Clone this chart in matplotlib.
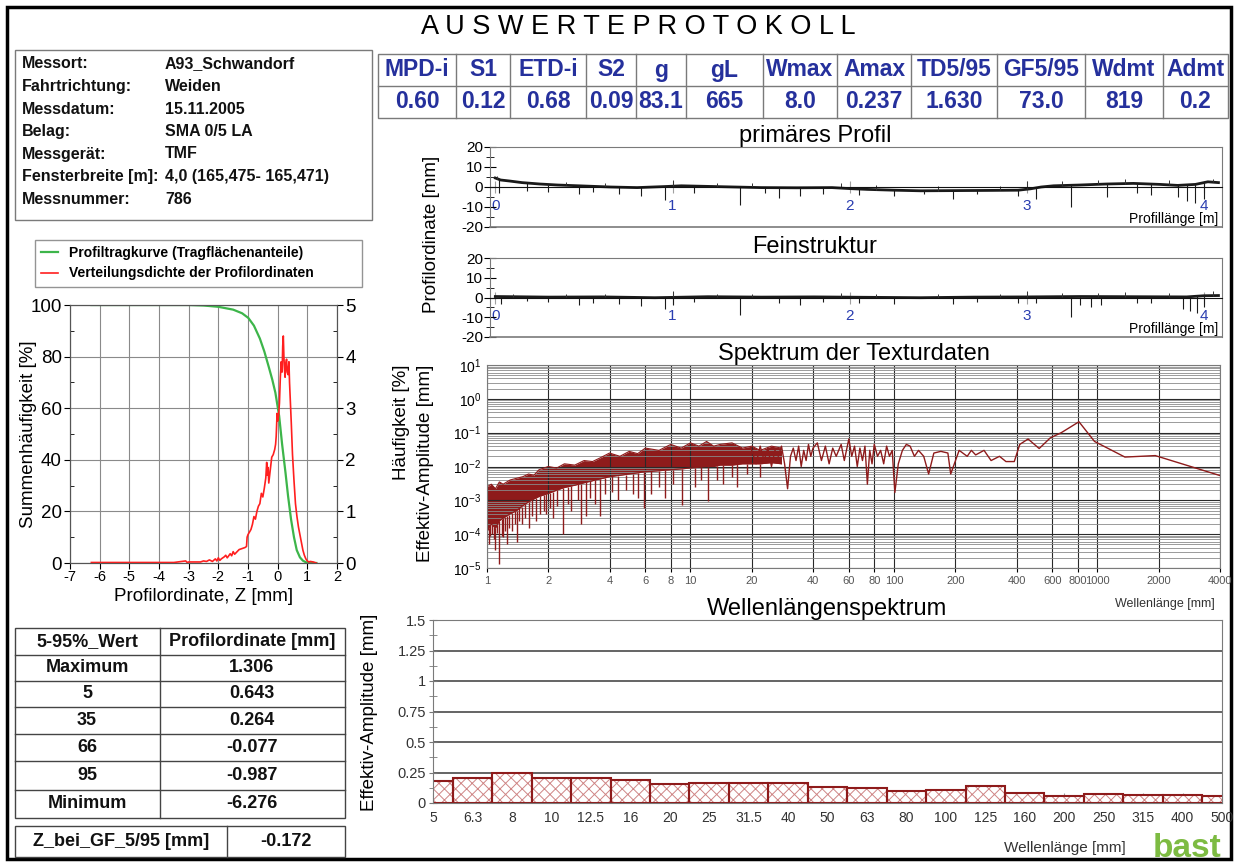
import numpy as np
import matplotlib
matplotlib.use('Agg')
import matplotlib.pyplot as plt
from matplotlib.patches import Rectangle
from matplotlib.ticker import LogLocator, NullLocator, NullFormatter

plt.rcParams['font.family'] = ['Liberation Sans', 'DejaVu Sans']
plt.rcParams['mathtext.default'] = 'regular'
plt.rcParams['axes.unicode_minus'] = False
plt.rcParams['hatch.linewidth'] = 0.7

# ---------------- data ----------------
info_labels = ['Messort:', 'Fahrtrichtung:', 'Messdatum:', 'Belag:', 'Messgerät:',
               'Fensterbreite [m]:', 'Messnummer:']
info_values = ['A93_Schwandorf', 'Weiden', '15.11.2005', 'SMA 0/5 LA', 'TMF',
               '4,0 (165,475- 165,471)', '786']

param_names = ['MPD-i', 'S1', 'ETD-i', 'S2', 'g', 'gL', 'Wmax', 'Amax', 'TD5/95',
               'GF5/95', 'Wdmt', 'Admt']
param_values = ['0.60', '0.12', '0.68', '0.09', '83.1', '665', '8.0', '0.237',
                '1.630', '73.0', '819', '0.2']

quant_names = ['Maximum', '5', '35', '66', '95', 'Minimum']
quant_values = ['1.306', '0.643', '0.264', '-0.077', '-0.987', '-6.276']
z_gf_value = '-0.172'

# Profiltragkurve (bearing curve), %
tk_z = [-6.28, -3.0, -2.5, -2.0, -1.5, -1.2, -0.99, -0.8, -0.6, -0.45, -0.3, -0.18,
        -0.077, 0.05, 0.15, 0.264, 0.35, 0.45, 0.55, 0.643, 0.75, 0.85, 0.95, 1.05, 1.306]
tk_pct = [100, 100, 99.8, 99.3, 98.2, 96.8, 95, 92, 87, 82, 76, 71,
          66, 57, 46, 35, 26, 17, 10, 5, 2.2, 0.9, 0.3, 0.05, 0]

# Verteilungsdichte (right axis)
vd_z = [-6.28, -5.5, -4.5, -3.5, -3.1, -3.05, -3.0, -2.6, -2.5, -2.4,
        -2.3, -2.2, -2.1, -2.05, -2.0, -1.95, -1.9, -1.8, -1.75, -1.7,
        -1.6, -1.55, -1.5, -1.45, -1.4, -1.3, -1.2, -1.1, -1.05, -1.03,
        -1.0, -0.95, -0.9, -0.85, -0.8, -0.75, -0.7, -0.65, -0.6, -0.55,
        -0.5, -0.45, -0.4, -0.37, -0.35, -0.32, -0.3, -0.25, -0.2, -0.15,
        -0.1, -0.07, -0.05, -0.02, 0.0, 0.03, 0.06, 0.09, 0.12, 0.15,
        0.17, 0.19, 0.21, 0.23, 0.25, 0.27, 0.3, 0.32, 0.35, 0.38,
        0.4, 0.43, 0.46, 0.5, 0.55, 0.6, 0.65, 0.7, 0.75, 0.8,
        0.85, 0.9, 0.95, 1.0, 1.05, 1.1, 1.2, 1.3]
vd_val = [0.01, 0.01, 0.01, 0.01, 0.04, 0.01, 0.02, 0.02, 0.04, 0.03,
          0.06, 0.03, 0.08, 0.04, 0.1, 0.05, 0.08, 0.12, 0.15, 0.1,
          0.18, 0.14, 0.22, 0.17, 0.2, 0.26, 0.28, 0.3, 0.32, 0.5,
          0.55, 0.6, 0.65, 0.75, 0.9, 0.85, 1.0, 1.1, 1.15, 1.35,
          1.28, 1.45, 1.65, 1.95, 1.7, 1.85, 1.55, 1.8, 2.05, 2.1,
          2.2, 2.3, 2.45, 2.9, 2.75, 2.85, 3.1, 3.6, 3.9, 3.7,
          4.2, 4.4, 4.0, 3.75, 3.6, 3.85, 3.95, 3.7, 3.65, 3.9,
          3.5, 3.1, 2.7, 2.1, 1.6, 1.15, 0.9, 0.7, 0.55, 0.4,
          0.25, 0.15, 0.08, 0.04, 0.02, 0.03, 0.02, 0.0]

# primäres Profil: trend line + spikes
prim_x = [0.0, 0.03, 0.08, 0.15, 0.25, 0.35, 0.5, 0.65, 0.8, 0.95, 1.05, 1.2, 1.35, 1.5,
          1.7, 1.9, 2.0, 2.1, 2.25, 2.4, 2.6, 2.8, 2.95, 3.02, 3.08, 3.15, 3.3, 3.45,
          3.6, 3.75, 3.85, 3.95, 4.02, 4.08]
prim_y = [4.5, 3.5, 3.0, 2.2, 1.5, 1.0, 0.5, 0.0, -0.3, 0.2, 0.6, 0.3, 0.0, -0.3,
          -0.4, -0.3, -0.8, -1.2, -1.6, -1.9, -1.8, -1.7, -1.6, -0.9, 0.0, 0.6, 1.0, 1.5,
          1.8, 1.3, 0.8, 1.3, 2.6, 2.2]
prim_spk_x = [0.02, 0.18, 0.3, 0.47, 0.55, 0.7, 0.82, 0.96, 1.12, 1.38, 1.52, 1.6, 1.72,
              1.85, 2.05, 2.25, 2.42, 2.58, 2.72, 2.95, 3.05, 3.25, 3.45, 3.62, 3.7,
              3.85, 3.9, 3.95, 4.0]
prim_spk_y = [-3, -2, -2.5, -3.5, -2.5, -3.5, -4.5, -6.5, -3, -9, -3, -5.5, -4.5,
              -3.5, -4, -4.5, -3.5, -6, -3.5, -4.5, -6, -10, -5, -3, -4,
              -5, -7, -8, -6]
prim_up_x = [0.01, 0.4, 0.62, 1.0, 1.25, 1.45, 1.95, 2.15, 2.5, 2.85, 3.0, 3.2, 3.4,
             3.55, 3.8, 4.05]
prim_up_y = [5.5, 2.5, 2.0, 3.5, 2.0, 2.0, 2.0, 1.0, 0.3, 0.3, 3.0, 3.0, 3.5,
             3.8, 3.3, 4.0]

# Feinstruktur
fein_x = [0.0, 0.3, 0.6, 0.9, 1.2, 1.5, 1.8, 2.1, 2.4, 2.7, 3.0, 3.3, 3.6, 3.9, 4.0, 4.08]
fein_y = [0.5, 0.2, 0.3, -0.1, 0.4, 0.2, 0.3, 0.1, -0.1, 0.2, 0.3, 0.5, 0.4, 0.3, 0.9, 1.0]
fein_spk_x = [0.03, 0.18, 0.3, 0.47, 0.55, 0.7, 0.82, 0.96, 1.0, 1.12, 1.38, 1.6, 1.72,
              1.85, 2.05, 2.25, 2.58, 2.72, 2.95, 3.05, 3.25, 3.3, 3.36, 3.42, 3.62,
              3.7, 3.88, 3.92, 3.96, 4.0]
fein_spk_y = [-3.5, -2, -2.5, -4, -3, -3.5, -4.5, -6, -4, -2.5, -9, -3, -4,
              -2.5, -3, -3.5, -3.5, -2.5, -3, -3, -10, -4, -5, -4, -3,
              -3, -6, -7, -8, -5]
fein_up_x = [0.1, 0.4, 0.62, 1.0, 1.25, 1.45, 1.95, 2.15, 2.5, 2.85, 3.0, 3.2, 3.4,
             3.55, 3.8, 4.05]
fein_up_y = [2.0, 2.0, 1.8, 3.5, 2.0, 1.8, 2.5, 2.0, 1.8, 2.0, 3.5, 2.2, 2.5,
             2.8, 2.3, 3.5]
profile_ticks = [0, 1, 2, 3, 4]

# Spektrum der Texturdaten: dense band (short wavelengths), spikes, sparse line
band_x = [1, 1.05, 1.1, 1.15, 1.2, 1.3, 1.4, 1.5, 1.6, 1.7,
          1.8, 2.0, 2.2, 2.4, 2.7, 3.0, 3.3, 3.6, 4.0, 4.5,
          5, 5.5, 6, 7, 8, 9, 10, 11, 12, 13,
          14, 16, 18, 20, 22, 25, 28]
band_hi = [2.5e-3, 3e-3, 2.2e-3, 3.5e-3, 3e-3, 4e-3, 4.5e-3, 5e-3, 6e-3, 5.5e-3,
           8e-3, 1e-2, 9e-3, 1.2e-2, 1.1e-2, 1.5e-2, 1.4e-2, 1.8e-2, 2.5e-2, 2e-2,
           2.8e-2, 2.4e-2, 3.5e-2, 3e-2, 4.5e-2, 3.5e-2, 5e-2, 4e-2, 5.5e-2, 4e-2,
           4.5e-2, 5e-2, 3.5e-2, 4e-2, 3e-2, 4e-2, 3.5e-2]
band_lo = [1.2e-4, 2e-4, 1.5e-4, 2.5e-4, 3e-4, 4e-4, 5e-4, 7e-4, 9e-4, 1.1e-3,
           1.3e-3, 1.6e-3, 2e-3, 2.4e-3, 2.8e-3, 3.3e-3, 3.8e-3, 4.3e-3, 5e-3, 5.5e-3,
           6e-3, 6.5e-3, 7e-3, 7.5e-3, 8e-3, 8.5e-3, 9e-3, 9.5e-3, 1e-2, 1e-2,
           1.1e-2, 1.1e-2, 1.2e-2, 1.2e-2, 1.2e-2, 1.3e-2, 1.2e-2]
spec_spk_x = [1.02, 1.04, 1.06, 1.08, 1.1, 1.12, 1.15, 1.18, 1.2, 1.23,
              1.25, 1.28, 1.33, 1.37, 1.4, 1.44, 1.48, 1.53, 1.6, 1.66,
              1.75, 1.82, 1.9, 1.95, 2.05, 2.1, 2.2, 2.37, 2.5, 2.6,
              2.8, 2.9, 3.05, 3.2, 3.4, 3.6, 3.8, 4.1, 4.4, 4.8,
              5.2, 5.5, 5.9, 6.4, 7.0, 7.5, 8.2, 9.1, 10.5, 11.3,
              12.2, 13.5, 14.5, 16, 17, 19, 22]
spec_spk_y = [5e-5, 9e-5, 1e-4, 7e-5, 3.5e-5, 1.1e-4, 1.3e-5, 9e-5, 8e-5, 1.2e-4,
              5e-5, 1.5e-4, 1.2e-4, 2e-4, 6e-5, 2.5e-4, 2e-4, 3e-4, 1.5e-4, 3.5e-4,
              2.5e-4, 4e-4, 5e-4, 4e-4, 6e-4, 3e-4, 7e-4, 1e-4, 8e-4, 5e-4,
              1e-3, 2e-4, 3.5e-4, 1.2e-3, 8e-4, 3.5e-4, 1.5e-3, 1.8e-3, 1e-3, 2e-3,
              1.5e-3, 1.2e-3, 6e-4, 1.5e-3, 2.5e-3, 1.2e-3, 3e-3, 7.5e-4, 2.5e-3, 4e-3,
              9.5e-4, 4e-3, 3e-3, 5e-3, 2.5e-3, 6e-3, 5e-3]
line_x = [20, 21, 22, 23, 24, 25, 26, 27, 28, 29,
          30, 31, 32, 33, 34, 35, 36, 37, 38, 39,
          40, 42, 44, 46, 48, 50, 52, 55, 57, 60,
          62, 64, 66, 68, 70, 72, 74, 76, 78, 80,
          83, 86, 89, 92, 95, 98, 101, 105, 110, 115,
          120, 126, 132, 140, 148, 157, 170, 184, 190, 209,
          229, 240, 252, 277, 300, 330, 355, 390, 415, 456,
          517, 586, 664, 811, 967, 1364, 1923, 4000]
line_y = [0.03, 0.012, 0.04, 0.015, 0.035, 0.01, 0.03, 0.02, 0.04, 0.012,
          0.0022, 0.02, 0.035, 0.015, 0.04, 0.01, 0.03, 0.015, 0.045, 0.02,
          0.035, 0.05, 0.015, 0.04, 0.012, 0.035, 0.02, 0.045, 0.015, 0.065,
          0.02, 0.04, 0.01, 0.035, 0.015, 0.04, 0.003, 0.03, 0.012, 0.045,
          0.02, 0.03, 0.012, 0.04, 0.02, 0.03, 0.0017, 0.012, 0.03, 0.045,
          0.04, 0.02, 0.03, 0.02, 0.006, 0.025, 0.028, 0.025, 0.006, 0.03,
          0.02, 0.03, 0.022, 0.03, 0.015, 0.02, 0.014, 0.014, 0.045, 0.065,
          0.034, 0.07, 0.1, 0.21, 0.055, 0.019, 0.021, 0.0054]
spec_ticks = [1, 2, 4, 6, 8, 10, 20, 40, 60, 80, 100, 200, 400, 600, 800, 1000, 2000, 4000]

# Wellenlängenspektrum (terz bands)
wl_labels = ['5', '6.3', '8', '10', '12.5', '16', '20', '25', '31.5', '40', '50', '63',
             '80', '100', '125', '160', '200', '250', '315', '400', '500']
wl_amp = [0.184, 0.203, 0.244, 0.209, 0.209, 0.19, 0.155, 0.16, 0.165, 0.165, 0.133,
          0.12, 0.095, 0.11, 0.138, 0.081, 0.057, 0.073, 0.062, 0.062, 0.057]
wl_yticks = ['0', '0.25', '0.5', '0.75', '1', '1.25', '1.5']

# ---------------- layout helpers ----------------
W, H = 1237, 864
BLUE = '#25309c'
DARKRED = '#8e1b1b'
EDGE = '#7a7a7a'


def rect(l, t, r, b):
    return [l / W, 1 - b / H, (r - l) / W, (b - t) / H]


fig = plt.figure(figsize=(W / 100, H / 100), dpi=100)

# page overlay in pixel coordinates (frame, tables, free text)
ax0 = fig.add_axes([0, 0, 1, 1])
ax0.set_xlim(0, W)
ax0.set_ylim(H, 0)
ax0.axis('off')
ax0.add_patch(Rectangle((7, 7), 1224, 852, fill=False, lw=2.5, ec='black'))
ax0.text(638, 27, 'A U S W E R T E P R O T O K O L L', ha='center', va='center',
         fontsize=19.5)

# info box
ax0.add_patch(Rectangle((15, 50), 357, 170, fill=False, ec=EDGE, lw=1))
for i, (lab, val) in enumerate(zip(info_labels, info_values)):
    y = 64 + i * 22.5
    ax0.text(22, y, lab, fontsize=11.5, fontweight='bold', va='center', color='#111')
    ax0.text(165, y, val, fontsize=11.5, fontweight='bold', va='center', color='#111')

# parameter table
col_edges = [378, 456, 510, 586, 636, 686, 763, 837, 911, 997, 1085, 1163, 1228]
ax0.add_patch(Rectangle((378, 54), 850, 64, fill=False, ec=EDGE, lw=1))
ax0.plot([378, 1228], [86, 86], color=EDGE, lw=1)
for e in col_edges[1:-1]:
    ax0.plot([e, e], [54, 118], color=EDGE, lw=1)
for i, (name, val) in enumerate(zip(param_names, param_values)):
    cx = (col_edges[i] + col_edges[i + 1]) / 2
    ax0.text(cx, 70, name, ha='center', va='center', fontsize=16.5,
             fontweight='bold', color=BLUE)
    ax0.text(cx, 102, val, ha='center', va='center', fontsize=16.5,
             fontweight='bold', color=BLUE)

# quantile table
row_edges = [628, 655, 681, 707, 734, 761, 790, 818]
ax0.add_patch(Rectangle((15, 628), 330, 190, fill=False, ec='#444', lw=1))
for e in row_edges[1:-1]:
    ax0.plot([15, 345], [e, e], color='#444', lw=1)
ax0.plot([160, 160], [628, 818], color='#444', lw=1)
rows = [('5-95%_Wert', 'Profilordinate [mm]')] + list(zip(quant_names, quant_values))
for i, (a, b) in enumerate(rows):
    cy = (row_edges[i] + row_edges[i + 1]) / 2
    ax0.text(87, cy, a, ha='center', va='center', fontsize=13, fontweight='bold', color='#111')
    ax0.text(252, cy, b, ha='center', va='center', fontsize=13, fontweight='bold', color='#111')
ax0.add_patch(Rectangle((15, 826), 330, 31, fill=False, ec='#444', lw=1))
ax0.plot([227, 227], [826, 857], color='#444', lw=1)
ax0.text(121, 842, 'Z_bei_GF_5/95 [mm]', ha='center', va='center', fontsize=13,
         fontweight='bold', color='#111')
ax0.text(286, 842, z_gf_value, ha='center', va='center', fontsize=13,
         fontweight='bold', color='#111')

# free labels
ax0.text(432, 234, 'Profilordinate [mm]', rotation=90, ha='center', va='center', fontsize=13.5)
ax0.text(402, 365, 'Häufigkeit [%]', rotation=90, ha='center', va='top', fontsize=13.5)
ax0.text(425, 365, 'Effektiv-Amplitude [mm]', rotation=90, ha='center', va='top', fontsize=13.5)
ax0.text(370, 712, 'Effektiv-Amplitude [mm]', rotation=90, ha='center', va='center', fontsize=13.5)
ax0.text(1165, 604, 'Wellenlänge [mm]', ha='center', va='center', fontsize=9, color='#333')
ax0.text(1065, 848, 'Wellenlänge [mm]', ha='center', va='center', fontsize=11, color='#333')
ax0.text(1187, 857, 'bast', ha='center', va='baseline', fontsize=24, fontweight='bold',
         color='#7dbb42')

# ---------------- left chart ----------------
axl = fig.add_axes(rect(70, 305, 337, 563))
g_line, = axl.plot(tk_z, tk_pct, color='#3db54a', lw=1.6, zorder=3)
axl.set_xlim(-7, 2)
axl.set_ylim(0, 100)
axl.set_xticks(range(-7, 3))
axl.set_yticks(range(0, 101, 20))
axl.set_yticks(range(10, 100, 20), minor=True)
axl.grid(True, which='major', color='#8a8a8a', lw=0.8)
axl.tick_params(axis='y', labelsize=13.5, length=4, pad=2)
axl.tick_params(axis='x', labelsize=10.5, length=4, pad=1)
axl.tick_params(which='minor', direction='in', length=3)
axl.set_xlabel('Profilordinate, Z [mm]', fontsize=13.5, labelpad=3)
axl.set_ylabel('Summenhäufigkeit [%]', fontsize=13.5)
axl.yaxis.set_label_coords(-0.125, 0.5)
axr = axl.twinx()
r_line, = axr.plot(vd_z, vd_val, color='#ff1f1f', lw=1.2)
axr.set_ylim(0, 5)
axr.set_yticks(range(6))
axr.set_yticks(np.arange(0.5, 5, 1.0), minor=True)
axr.tick_params(axis='y', labelsize=13.5, length=4, pad=2)
axr.tick_params(which='minor', direction='in', length=3)
for a in (axl, axr):
    for s in a.spines.values():
        s.set_color('#555')
axl.legend(handles=[g_line, r_line],
           labels=['Profiltragkurve (Tragflächenanteile)',
                   'Verteilungsdichte der Profilordinaten'],
           loc='upper left', bbox_to_anchor=(35 / W, 1 - 240 / H, 327 / W, 0),
           bbox_transform=fig.transFigure, mode='expand', frameon=True,
           fancybox=False, edgecolor=EDGE, prop={'weight': 'bold', 'size': 10},
           handlelength=1.2, borderaxespad=0, borderpad=0.45, labelspacing=0.45)


# ---------------- profiles ----------------
def profile(top, bottom, title, bx, by, sx, sy, ux, uy):
    ax = fig.add_axes(rect(490, top, 1222, bottom))
    ax.plot(bx, by, color='#1a1a1a', lw=2.0)
    ax.vlines(sx, sy, np.interp(sx, bx, by), color='#1a1a1a', lw=0.8)
    ax.vlines(ux, np.interp(ux, bx, by), uy, color='#333', lw=0.7)
    ax.set_xlim(-0.03, 4.1)
    ax.set_ylim(-20, 20)
    ax.spines['bottom'].set_position(('data', 0))
    ax.spines['bottom'].set_color('#111')
    ax.spines['bottom'].set_linewidth(0.8)
    for s in ('left', 'top', 'right'):
        ax.spines[s].set_color(EDGE)
    ax.plot([0, 1], [0, 0], transform=ax.transAxes, color=EDGE, lw=1.2, clip_on=False)
    ax.set_xticks(profile_ticks)
    ax.tick_params(axis='x', direction='inout', length=9, color='#a0a0a0',
                   labelcolor='#2a3db0', labelsize=11, pad=4)
    ax.set_yticks([-20, -10, 0, 10, 20])
    ax.set_yticks([-15, -5, 5, 15], minor=True)
    ax.tick_params(axis='y', direction='inout', length=8, labelsize=11, pad=1)
    ax.tick_params(axis='y', which='minor', direction='inout', length=6)
    ax.set_title(title, fontsize=17, pad=1, x=0.444)
    ax.text(0.995, 0.01, 'Profillänge [m]', transform=ax.transAxes, ha='right',
            va='bottom', fontsize=10)
    return ax


profile(147, 227, 'primäres Profil', prim_x, prim_y, prim_spk_x, prim_spk_y,
        prim_up_x, prim_up_y)
profile(258, 337, 'Feinstruktur', fein_x, fein_y, fein_spk_x, fein_spk_y,
        fein_up_x, fein_up_y)

# ---------------- spectrum ----------------
axs = fig.add_axes(rect(487, 365, 1220, 568))
axs.set_xscale('log')
axs.set_yscale('log')
axs.fill_between(band_x, band_lo, band_hi, color=DARKRED, lw=0)
axs.plot(band_x, band_hi, color=DARKRED, lw=0.8)
axs.plot(band_x, band_lo, color=DARKRED, lw=0.8)
spk_base = np.exp(np.interp(np.log(spec_spk_x), np.log(band_x), np.log(band_lo)))
axs.vlines(spec_spk_x, spec_spk_y, spk_base, color=DARKRED, lw=1.0)
axs.plot(line_x, line_y, color=DARKRED, lw=1.0)
axs.set_xlim(1, 4000)
axs.set_ylim(1e-5, 10)
axs.set_xticks(spec_ticks, labels=[str(t) for t in spec_ticks])
axs.xaxis.set_minor_locator(NullLocator())
axs.yaxis.set_major_locator(LogLocator(base=10, numticks=10))
axs.yaxis.set_minor_locator(LogLocator(base=10, subs=np.arange(2, 10), numticks=10))
axs.yaxis.set_minor_formatter(NullFormatter())
axs.grid(which='major', color='#2a2a2a', lw=0.8)
axs.grid(which='minor', axis='y', color='#8a8a8a', lw=0.6)
axs.tick_params(axis='x', labelsize=8, labelcolor='#555', length=3, pad=3)
axs.tick_params(axis='y', which='both', labelsize=10, length=0, pad=4)
for s in axs.spines.values():
    s.set_color(EDGE)
axs.set_title('Spektrum der Texturdaten', fontsize=17, pad=1)

# ---------------- Wellenlängenspektrum ----------------
axb = fig.add_axes(rect(433, 620, 1222, 803))
pos = np.arange(len(wl_labels))
axb.bar(pos, wl_amp, width=1.0, color='white', edgecolor='#cf8585', hatch='xxx', lw=0)
axb.bar(pos, wl_amp, width=1.0, fill=False, edgecolor=DARKRED, lw=1.5)
axb.set_xlim(0, len(wl_labels) - 1)
axb.set_ylim(0, 1.5)
axb.set_xticks(pos, labels=wl_labels)
axb.set_yticks([float(s) for s in wl_yticks], labels=wl_yticks)
axb.set_yticks(np.arange(0.125, 1.5, 0.25), minor=True)
axb.set_axisbelow(True)
axb.grid(axis='y', which='major', color='#3a3a3a', lw=1.1)
axb.tick_params(axis='x', direction='in', length=7, color='#999', labelsize=10,
                labelcolor='#333', pad=6)
axb.tick_params(axis='y', which='both', direction='inout', length=6, color='#777',
                labelsize=10.5, labelcolor='#333', pad=2)
for s in axb.spines.values():
    s.set_color(EDGE)
axb.set_title('Wellenlängenspektrum', fontsize=17, pad=1)

fig.savefig('out.png', dpi=100)
